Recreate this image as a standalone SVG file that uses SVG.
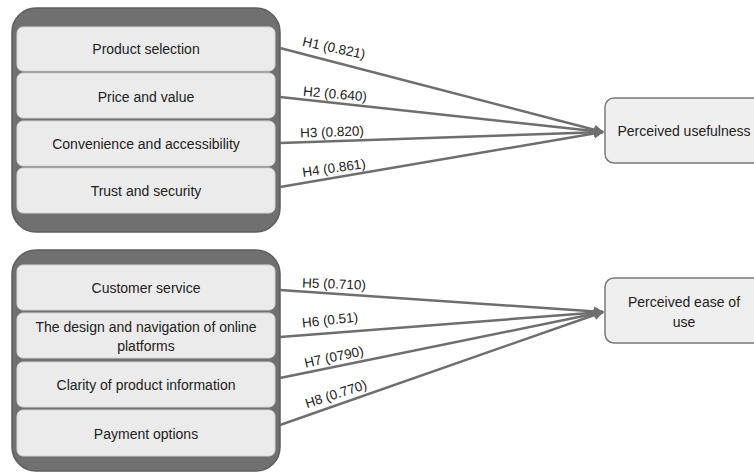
<svg xmlns="http://www.w3.org/2000/svg" width="754" height="472" viewBox="0 0 754 472">
<style>
.outer{fill:#707070;stroke:#5e5e5e;stroke-width:1.5}
.row{fill:#ebebeb;stroke:#d4d4d4;stroke-width:1}
.tgt{fill:#efefef;stroke:#7a7a7a;stroke-width:1.5}
.t{font-family:"Liberation Sans",Arial,sans-serif;font-size:14px;fill:#222;text-anchor:middle;dominant-baseline:central}
.lbl{font-family:"Liberation Sans",Arial,sans-serif;font-size:13.5px;fill:#222;text-anchor:middle;dominant-baseline:central}
.c{stroke:#6e6e6e;stroke-width:2.5;fill:none;marker-end:url(#ah)}
</style>
<defs>
<marker id="ah" viewBox="0 0 10 10" refX="9" refY="5" markerWidth="4" markerHeight="4" orient="auto" markerUnits="strokeWidth">
<path d="M0,0 L10,5 L0,10 z" fill="#6e6e6e"/>
</marker>
</defs>
<rect width="754" height="472" fill="#ffffff"/>

<g id="group1">
<rect class="outer" x="12" y="8" width="268" height="224" rx="24"/>
</g>
<g id="product-selection"><rect class="row" x="17" y="27" width="258" height="44" rx="6"/><text class="t" x="146" y="49">Product selection</text></g>
<g id="price-value"><rect class="row" x="17" y="73" width="258" height="45" rx="6"/><text class="t" x="146" y="97">Price and value</text></g>
<g id="convenience"><rect class="row" x="17" y="121" width="258" height="45" rx="6"/><text class="t" x="146" y="144">Convenience and accessibility</text></g>
<g id="trust"><rect class="row" x="17" y="168" width="258" height="45" rx="6"/><text class="t" x="146" y="191">Trust and security</text></g>

<g id="group2">
<rect class="outer" x="12" y="250" width="268" height="221" rx="24"/>
</g>
<g id="customer-service"><rect class="row" x="17" y="265" width="258" height="45" rx="6"/><text class="t" x="146" y="288">Customer service</text></g>
<g id="design-navigation"><rect class="row" x="17" y="313" width="258" height="45" rx="6"/><text class="t" x="146" y="327">The design and navigation of online</text><text class="t" x="146" y="346">platforms</text></g>
<g id="clarity"><rect class="row" x="17" y="362" width="258" height="45" rx="6"/><text class="t" x="146" y="385">Clarity of product information</text></g>
<g id="payment"><rect class="row" x="17" y="410" width="258" height="46" rx="6"/><text class="t" x="146" y="434">Payment options</text></g>

<g id="perceived-usefulness"><rect class="tgt" x="605" y="98" width="160" height="65" rx="9"/><text class="t" x="684" y="131">Perceived usefulness</text></g>
<g id="perceived-ease"><rect class="tgt" x="605" y="278" width="160" height="65" rx="9"/><text class="t" x="684" y="302">Perceived ease of</text><text class="t" x="684" y="322">use</text></g>

<g id="connectors">
<line class="c" x1="280" y1="48" x2="603" y2="132"/>
<line class="c" x1="280" y1="97" x2="603" y2="132"/>
<line class="c" x1="280" y1="143" x2="603" y2="132"/>
<line class="c" x1="280" y1="187" x2="603" y2="132"/>
<line class="c" x1="280" y1="290" x2="603" y2="312"/>
<line class="c" x1="280" y1="337" x2="603" y2="312"/>
<line class="c" x1="280" y1="378" x2="603" y2="312"/>
<line class="c" x1="280" y1="425" x2="603" y2="312"/>
</g>

<g id="labels">
<text class="lbl" transform="translate(334,48) rotate(12)">H1 (0.821)</text>
<text class="lbl" transform="translate(335,94) rotate(5)">H2 (0.640)</text>
<text class="lbl" transform="translate(332,132) rotate(-2)">H3 (0.820)</text>
<text class="lbl" transform="translate(334,168) rotate(-8)">H4 (0.861)</text>
<text class="lbl" transform="translate(334,284) rotate(2)">H5 (0.710)</text>
<text class="lbl" transform="translate(330,320) rotate(-6)">H6 (0.51)</text>
<text class="lbl" transform="translate(334,357) rotate(-12)">H7 (0790)</text>
<text class="lbl" transform="translate(336,394) rotate(-18)">H8 (0.770)</text>
</g>
</svg>
